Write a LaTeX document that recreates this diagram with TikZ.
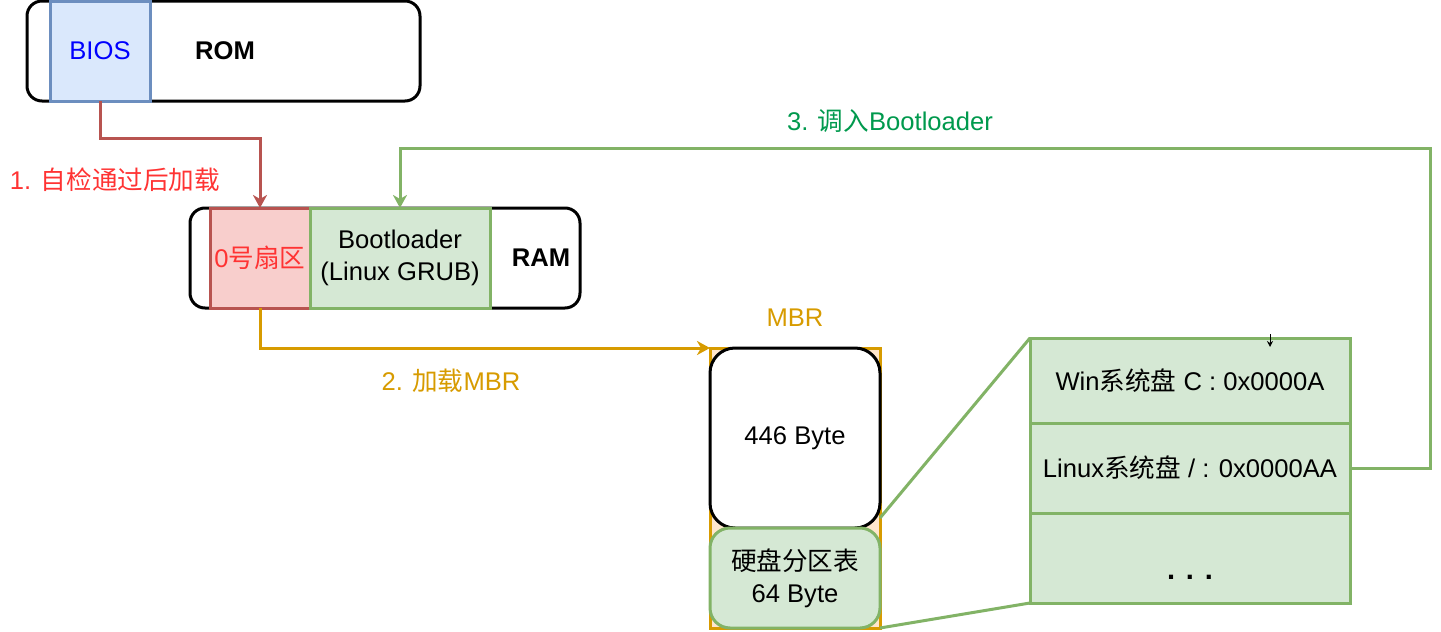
\documentclass[tikz,border=0pt]{standalone}
\usepackage{fontspec}
\setmainfont{Liberation Sans}
\newfontfamily\cjk{Noto Sans CJK SC}
\usetikzlibrary{arrows.meta}
\definecolor{bluefill}{HTML}{DAE8FC}
\definecolor{blueline}{HTML}{6C8EBF}
\definecolor{redfill}{HTML}{F8CECC}
\definecolor{redline}{HTML}{B85450}
\definecolor{redtext}{HTML}{FF3333}
\definecolor{greenfill}{HTML}{D5E8D4}
\definecolor{greenline}{HTML}{82B366}
\definecolor{greentext}{HTML}{00994D}
\definecolor{orangefill}{HTML}{FFE6CC}
\definecolor{orangeline}{HTML}{D79B00}
\begin{document}
\begin{tikzpicture}[x=1pt, y=-1pt, line width=3pt,
    every node/.style={font=\fontsize{25.6}{32}\selectfont, inner sep=0pt, outer sep=0pt, align=center},
    bold/.style={font=\fontsize{25.6}{32}\selectfont\bfseries},
    cell/.style args={#1x#2}{draw, minimum width=#1pt, minimum height=#2pt},
    tip/.style={-{Stealth[length=13pt, width=14pt, inset=4pt]}}]
\useasboundingbox (0,0) rectangle (1441,632);
% ROM
\node[cell=393x100, rounded corners=15pt] (rom) at (223.5,51) {};
\node[cell=100x100, draw=blueline, fill=bluefill, text=blue] (bios) at (100,51) {BIOS};
\node[bold] (romlbl) at (225,51) {ROM};
% RAM
\node[cell=390x100, rounded corners=15pt] (ram) at (385,258) {};
\node[cell=100x100, draw=redline, fill=redfill, text=redtext] (sec0) at (260,258) {0{\cjk 号扇区}};
\node[cell=180x100, draw=greenline, fill=greenfill] (boot) at (400,258) {Bootloader\\(Linux GRUB)};
\node[bold] (ramlbl) at (541,258) {RAM};
% MBR
\node[cell=170x280, draw=orangeline, fill=orangefill] (mbr) at (795,488) {};
\node[text=orangeline] (mbrlbl) at (795,318) {MBR};
\node[cell=170x180, fill=white, rounded corners=25pt] (b446) at (795,438) {446 Byte};
\node[cell=170x100, draw=greenline, fill=greenfill, rounded corners=20pt] (ptab) at (795,578) {{\cjk 硬盘分区表}\\64 Byte};
% partition table
\node[cell=320x85, draw=greenline, fill=greenfill] (win) at (1190,380.5) {Win{\cjk 系统盘} C : 0x0000A};
\node[cell=320x90, draw=greenline, fill=greenfill] (linux) at (1190,468) {Linux{\cjk 系统盘} / : 0x0000AA};
\node[cell=320x90, draw=greenline, fill=greenfill] (more) at (1190,558) {\raisebox{-21pt}[0pt][0pt]{\fontsize{29}{34}\selectfont\bfseries . . .}};
\draw[greenline] ([yshift=10pt]b446.south east) -- (win.north west);
\draw[greenline] (ptab.south east) -- (more.south west);
\coordinate (dot) at (1270,334);
\draw[line width=1pt, -{Stealth[length=6pt, width=6pt]}] (dot) -- ++(0,13);
% arrows
\draw[redline, tip] (bios.south) -- ++(0,37) -| (sec0.north);
\node[text=redtext] (step1) at (115,180) {1. {\cjk 自检通过后加载}};
\draw[orangeline, tip] (sec0.south) |- (mbr.north west);
\node[text=orangeline] (step2) at (451,381) {2. {\cjk 加载}MBR};
\coordinate (turn) at (400,148);
\draw[greenline, tip] (linux.east) -- ++(80,0) |- (turn) -- (boot.north);
\node[text=greentext] (step3) at (890,121) {3. {\cjk 调入}Bootloader};
\end{tikzpicture}
\end{document}
